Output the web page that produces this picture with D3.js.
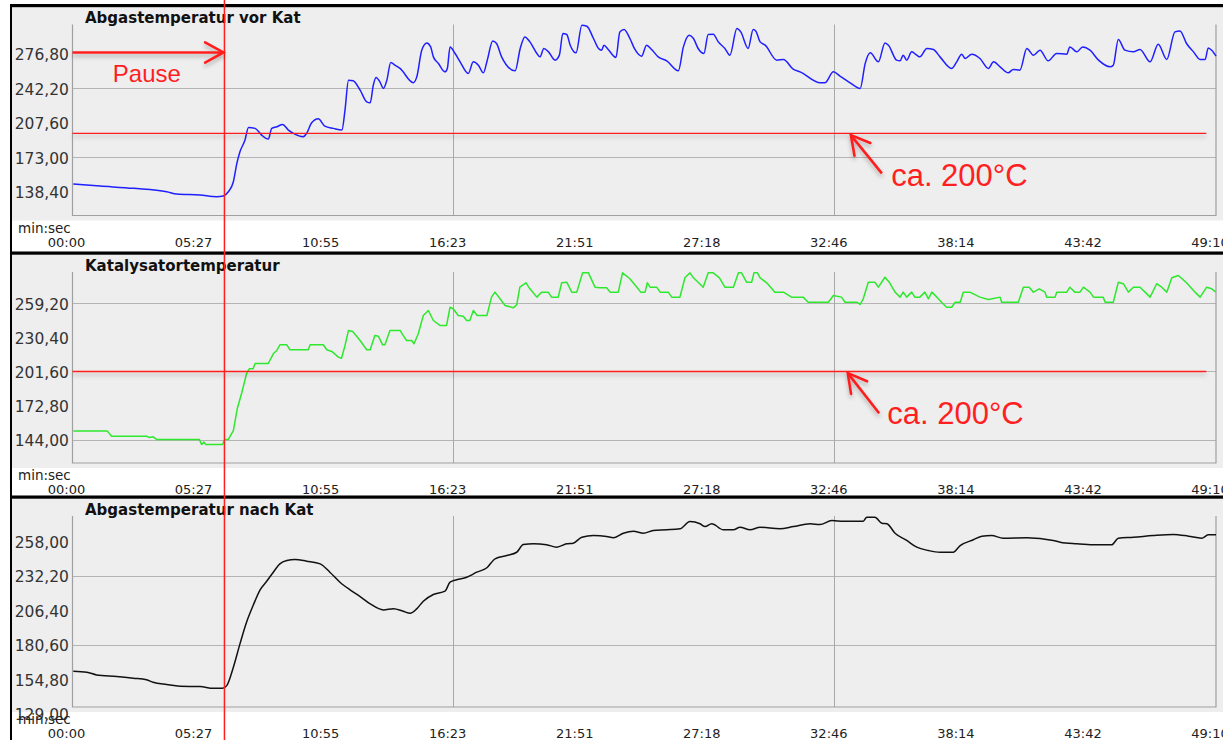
<!DOCTYPE html>
<html>
<head>
<meta charset="utf-8">
<script src="https://cdn.jsdelivr.net/npm/d3@7"></script>
<style>
  html, body { margin: 0; padding: 0; background: #fff; }
  svg { display: block; }
</style>
</head>
<body>
<svg id="chart" width="1223" height="740"></svg>
<script>
// ---- Data: time in seconds, temperature in °C ----
const xTickLabels = ["00:00", "05:27", "10:55", "16:23", "21:51", "27:18", "32:46", "38:14", "43:42", "49:10"];
const totalSeconds = 2950;
const xGridTickIndex = [3, 6];

const panelTitles = ["Abgastemperatur vor Kat", "Katalysatortemperatur", "Abgastemperatur nach Kat"];

const yTicksVorKat = [138.4, 173.0, 207.6, 242.2, 276.8];
const yTicksKat = [144.0, 172.8, 201.6, 230.4, 259.2];
const yTicksNachKat = [129.0, 154.8, 180.6, 206.4, 232.2, 258.0];
const yGridVorKat = [173.0, 242.2];
const yGridKat = [144.0, 201.6, 259.2];
const yGridNachKat = [180.6, 232.2];

const tempVorKat = [
  [2,146.3],[71,144.3],[157,142.0],[243,138.6],[269,136.3],[329,135.3],[372,133.6],[389,134.3],[402,138.6],[415,148.6],
  [424,167.0],[432,178.6],[445,190.3],[454,203.0],[471,202.0],[488,195.3],[505,191.3],[514,202.0],[527,203.6],[542,206.0],
  [557,200.3],[570,197.0],[595,193.6],[604,197.0],[617,207.6],[634,211.6],[651,204.3],[673,202.0],[695,200.3],[703,220.3],
  [712,250.3],[724,249.6],[742,240.3],[759,228.6],[768,227.6],[776,245.3],[783,253.0],[793,248.6],[802,242.0],[811,250.3],
  [821,268.0],[832,265.3],[845,262.0],[879,247.8],[888,253.3],[901,280.3],[914,287.6],[924,283.6],[931,273.6],[944,267.0],
  [961,258.6],[967,262.0],[974,283.6],[987,277.0],[1000,268.6],[1021,257.0],[1034,268.6],[1047,265.3],[1060,257.6],[1070,270.3],
  [1084,289.6],[1094,287.0],[1107,273.6],[1142,259.6],[1155,282.0],[1167,293.6],[1180,288.6],[1198,277.0],[1206,273.6],[1216,282.0],
  [1228,278.6],[1245,270.3],[1256,275.3],[1265,297.0],[1275,296.0],[1284,285.3],[1299,277.6],[1314,305.3],[1327,304.3],[1344,292.0],
  [1357,282.0],[1365,280.3],[1371,285.3],[1382,281.0],[1402,273.0],[1412,298.6],[1423,301.0],[1438,292.0],[1451,281.0],[1468,274.3],
  [1481,285.3],[1494,281.0],[1511,273.6],[1533,269.6],[1563,259.6],[1576,283.6],[1591,295.3],[1602,292.0],[1614,282.0],[1629,277.0],
  [1640,296.0],[1653,296.3],[1666,288.6],[1683,282.0],[1696,275.3],[1714,302.0],[1724,298.6],[1743,282.0],[1756,301.0],[1763,299.3],
  [1774,288.6],[1787,285.3],[1817,270.3],[1834,271.0],[1860,261.0],[1877,258.6],[1929,247.6],[1941,247.6],[1963,258.6],[1980,254.3],
  [2006,247.6],[2032,242.0],[2045,267.0],[2058,277.6],[2079,268.6],[2096,287.6],[2105,285.3],[2126,270.3],[2135,269.6],[2143,275.3],
  [2152,270.3],[2165,278.6],[2178,275.3],[2186,273.6],[2204,282.0],[2221,281.0],[2238,273.6],[2268,262.0],[2281,268.6],[2294,276.3],
  [2303,272.0],[2320,276.3],[2341,272.0],[2363,262.0],[2376,268.6],[2393,263.6],[2414,257.6],[2427,261.0],[2444,260.3],[2462,282.0],
  [2479,275.3],[2496,280.3],[2517,269.6],[2539,277.0],[2565,276.3],[2573,283.6],[2591,278.6],[2606,283.6],[2625,280.3],[2647,270.3],
  [2677,263.6],[2685,265.3],[2698,291.0],[2715,280.3],[2737,278.6],[2754,281.0],[2780,268.6],[2801,286.3],[2823,271.0],[2844,298.6],
  [2857,299.6],[2874,287.0],[2892,278.6],[2909,271.0],[2922,271.0],[2930,282.6],[2939,280.3],[2950,274.3]
];

const tempKat = [
  [2,151.3],[90,151.3],[101,147.0],[191,147.0],[198,146.0],[208,146.5],[217,144.3],[327,144.3],[333,140.0],[339,142.0],
  [344,140.0],[387,140.0],[393,144.3],[402,144.3],[415,151.8],[425,170.1],[437,184.1],[449,199.7],[456,203.9],[466,203.9],
  [471,208.3],[505,208.3],[518,216.5],[527,219.3],[535,224.1],[553,224.1],[561,219.9],[608,219.9],[613,224.1],[647,224.1],
  [656,219.9],[669,218.5],[686,213.7],[694,212.8],[703,223.5],[712,236.2],[723,235.3],[742,227.7],[759,219.9],[768,219.9],
  [780,232.0],[789,231.4],[800,224.1],[806,224.1],[819,236.2],[845,236.2],[853,232.0],[862,227.7],[875,227.7],[881,225.0],
  [892,233.4],[905,248.8],[918,253.0],[931,244.6],[948,240.4],[965,240.4],[974,255.8],[982,254.5],[995,248.8],[1008,248.2],
  [1017,244.6],[1025,244.6],[1034,253.0],[1044,248.8],[1069,248.8],[1081,264.3],[1090,268.5],[1103,262.9],[1116,257.3],[1137,255.3],
  [1146,257.8],[1154,272.7],[1170,276.4],[1180,271.3],[1198,264.3],[1210,268.5],[1227,268.5],[1236,264.3],[1253,264.3],[1262,276.4],
  [1275,276.9],[1288,268.5],[1301,268.5],[1316,284.8],[1331,284.8],[1348,272.7],[1361,272.2],[1378,272.2],[1387,268.5],[1408,268.5],
  [1419,284.8],[1438,279.8],[1456,272.7],[1466,268.5],[1477,268.5],[1483,276.4],[1490,272.7],[1507,272.7],[1516,268.5],[1537,268.5],
  [1546,264.3],[1567,264.3],[1580,280.6],[1593,284.8],[1602,280.6],[1614,276.9],[1627,272.7],[1640,284.8],[1653,284.8],[1669,280.6],
  [1683,272.7],[1705,272.7],[1718,284.8],[1726,284.8],[1739,276.9],[1752,276.9],[1758,284.8],[1767,284.8],[1774,280.6],[1791,276.4],
  [1812,268.5],[1834,268.5],[1855,264.3],[1885,264.3],[1898,260.0],[1950,260.0],[1963,265.7],[1984,264.3],[1993,260.0],[2023,260.0],
  [2032,258.1],[2040,262.9],[2053,276.9],[2070,276.9],[2079,272.7],[2096,281.1],[2107,276.9],[2122,268.5],[2135,264.3],[2143,268.5],
  [2152,264.3],[2165,268.5],[2173,264.3],[2186,264.3],[2199,268.5],[2208,262.9],[2217,268.5],[2230,264.3],[2242,260.0],[2255,255.8],
  [2268,255.8],[2277,260.0],[2290,260.0],[2298,268.5],[2315,268.5],[2341,264.3],[2363,262.3],[2393,264.3],[2397,260.0],[2440,260.0],
  [2453,272.7],[2468,272.7],[2479,268.5],[2494,271.3],[2509,268.5],[2513,264.3],[2535,264.3],[2539,268.5],[2565,268.5],[2573,272.7],
  [2586,268.5],[2599,268.5],[2608,272.7],[2625,268.5],[2634,264.3],[2659,264.3],[2664,260.0],[2685,260.0],[2698,276.9],[2711,275.6],
  [2724,268.5],[2737,272.7],[2754,272.7],[2767,268.5],[2780,264.3],[2797,275.6],[2810,272.7],[2823,268.5],[2836,280.6],[2853,282.6],
  [2874,276.4],[2896,268.5],[2909,264.3],[2926,272.7],[2939,271.3],[2950,268.5]
];

const tempNachKat = [
  [2,160.6],[37,159.9],[62,157.9],[114,156.7],[157,155.4],[191,154.2],[208,152.4],[243,150.7],[277,149.4],[329,149.2],
  [363,147.9],[387,147.9],[398,149.9],[415,163.6],[432,181.1],[449,197.3],[466,209.8],[484,221.5],[501,227.9],[518,234.7],
  [535,240.9],[553,243.4],[574,244.2],[604,242.9],[639,240.9],[664,234.7],[690,227.2],[716,221.5],[742,216.5],[768,211.0],
  [802,206.5],[828,207.3],[853,205.5],[871,204.0],[888,207.3],[905,213.0],[931,218.0],[961,220.5],[974,227.2],[991,229.0],
  [1017,230.9],[1043,234.7],[1069,238.0],[1090,244.7],[1120,247.2],[1146,249.6],[1163,255.4],[1189,255.9],[1223,255.2],[1249,253.4],
  [1275,255.9],[1292,256.4],[1314,260.8],[1344,262.1],[1378,261.4],[1395,260.4],[1421,263.8],[1447,265.3],[1473,263.8],[1498,265.9],
  [1533,266.4],[1567,267.1],[1593,272.6],[1619,270.9],[1632,268.8],[1649,270.9],[1679,266.4],[1705,266.4],[1722,268.3],[1748,266.4],
  [1774,268.3],[1825,267.1],[1860,268.8],[1903,270.9],[1928,270.3],[1959,273.3],[1989,272.8],[2040,272.8],[2049,275.8],[2070,275.8],
  [2088,271.3],[2101,270.9],[2122,263.8],[2152,258.4],[2178,253.4],[2208,250.9],[2238,249.6],[2272,249.6],[2290,254.6],[2324,258.9],
  [2346,261.6],[2371,262.1],[2401,260.1],[2462,260.4],[2530,258.4],[2548,257.1],[2591,255.9],[2633,255.2],[2681,255.2],[2698,260.1],
  [2737,260.8],[2788,262.1],[2840,262.9],[2879,261.6],[2913,260.1],[2930,262.6],[2950,262.6]
];

// ---- Annotation values ----
const pauseTime = 392;                 // restart after the pause, s
const pauseArrowTemp = 278;            // height of the "Pause" arrow in the top panel
const thresholdTemps = [197.0, 201.6]; // "ca. 200°C" marker lines (panel 1, panel 2)
const thresholdEndTime = 2925;
const calloutTips = [[2008, 195.3], [2000, 200.2]];
const calloutTails = [[2088, 157.0], [2081, 166.4]];
const calloutTextPos = [[2112, 144.6], [2102, 156.9]];
const calloutText = "ca. 200°C";
const pauseText = "Pause";
const pauseTextPos = [104, 248.6];

// ---- Layout ----
const W = 1223, H = 740;
const panelTops = [4, 251.5, 495.5];
const plotLeft = 72.5, plotRight = 1216;
const panels = [
  { title: panelTitles[0], data: tempVorKat, color: "#1f1fff", domain: [114.8, 306.0], ticks: yTicksVorKat, grid: yGridVorKat },
  { title: panelTitles[1], data: tempKat, color: "#2ee82e", domain: [124.4, 285.5], ticks: yTicksKat, grid: yGridKat },
  { title: panelTitles[2], data: tempNachKat, color: "#111111", domain: [133.9, 276.7], ticks: yTicksNachKat, grid: yGridNachKat }
];

const de = d3.formatLocale({ decimal: ",", thousands: ".", grouping: [3], currency: ["", " €"] });
const fmtY = de.format(".2f");

const svg = d3.select("#chart");
svg.append("rect").attr("width", W).attr("height", H).attr("fill", "#fff");

// drop shadow in user space so that flat horizontal lines keep it too
const defs = svg.append("defs");
const shadow = defs.append("filter").attr("id", "softShadow")
  .attr("filterUnits", "userSpaceOnUse")
  .attr("x", 0).attr("y", 0).attr("width", W).attr("height", H);
shadow.append("feDropShadow").attr("dx", 0).attr("dy", 3).attr("stdDeviation", 2)
  .attr("flood-color", "#000").attr("flood-opacity", 0.28);

const x = d3.scaleLinear().domain([0, totalSeconds]).range([plotLeft, plotRight]);
const tickTimes = xTickLabels.map((_, i) => i * totalSeconds / (xTickLabels.length - 1));

const yScales = [];

panels.forEach((p, i) => {
  const top = panelTops[i];
  const pTop = top + 20.5, pBottom = top + 211.5;
  const y = d3.scaleLinear().domain(p.domain).range([pBottom, pTop]);
  yScales.push(y);
  const g = svg.append("g");

  // panel background
  g.append("rect").attr("x", 12).attr("y", top).attr("width", W - 12).attr("height", 216.5)
    .attr("fill", "#eeeeee");

  // horizontal grid lines
  g.selectAll(".hgrid").data(p.grid).join("line")
    .attr("x1", plotLeft).attr("x2", plotRight)
    .attr("y1", d => Math.round(y(d)) + 0.5).attr("y2", d => Math.round(y(d)) + 0.5)
    .attr("stroke", "#b4b4b4").attr("stroke-width", 1);

  // vertical grid lines
  g.selectAll(".vgrid").data(xGridTickIndex).join("line")
    .attr("x1", d => Math.round(x(tickTimes[d])) - 0.5).attr("x2", d => Math.round(x(tickTimes[d])) - 0.5)
    .attr("y1", pTop).attr("y2", pBottom)
    .attr("stroke", "#a8a8a8").attr("stroke-width", 1);

  // plot frame: left, bottom, right
  g.append("path")
    .attr("d", `M${plotLeft},${pTop}V${pBottom}H${plotRight}V${pTop}`)
    .attr("fill", "none").attr("stroke", "#a0a0a0").attr("stroke-width", 1.2);

  // data line
  const line = d3.line().x(d => x(d[0])).y(d => y(d[1]))
    .curve(i === 1 ? d3.curveLinear : d3.curveMonotoneX);
  g.append("path").datum(p.data).attr("d", line)
    .attr("fill", "none").attr("stroke", p.color).attr("stroke-width", 1.5)
    .attr("stroke-linejoin", "round");

  // y tick labels
  g.selectAll(".ylab").data(p.ticks).join("text")
    .attr("x", 69).attr("y", d => y(d) + 1.5)
    .attr("text-anchor", "end").attr("dominant-baseline", "central")
    .attr("font-family", "DejaVu Sans, sans-serif").attr("font-size", 15.5)
    .attr("fill", "#333").text(d => fmtY(d));

  // x axis labels
  g.append("text").attr("x", 18).attr("y", pBottom + 12.3)
    .attr("dominant-baseline", "central")
    .attr("font-family", "DejaVu Sans, sans-serif").attr("font-size", 13.5)
    .attr("fill", "#222").text("min:sec");
  g.selectAll(".xlab").data(xTickLabels).join("text")
    .attr("x", (d, k) => x(tickTimes[k]) - 6).attr("y", pBottom + 26.5)
    .attr("text-anchor", "middle").attr("dominant-baseline", "central")
    .attr("font-family", "DejaVu Sans, sans-serif").attr("font-size", 13)
    .attr("fill", "#222").text(d => d);

  // title
  g.append("text").attr("x", 85).attr("y", top + 19)
    .attr("font-family", "DejaVu Sans, sans-serif").attr("font-weight", "bold").attr("font-size", 15)
    .attr("fill", "#111").text(p.title);

  // top border of the panel
  g.append("rect").attr("x", 10).attr("y", top).attr("width", W - 10).attr("height", 3.2).attr("fill", "#000");
});

// left frame border
svg.append("rect").attr("x", 10).attr("y", panelTops[0]).attr("width", 2).attr("height", H - panelTops[0]).attr("fill", "#000");

// ---- Red annotations ----
const red = "#ff1f1f";
const ann = svg.append("g");

// threshold lines
thresholdTemps.forEach((t, i) => {
  const yy = yScales[i](t);
  ann.append("line").attr("x1", x(0)).attr("x2", x(thresholdEndTime))
    .attr("y1", yy).attr("y2", yy)
    .attr("stroke", red).attr("stroke-width", 1.4).attr("filter", "url(#softShadow)");
});

// vertical pause marker through all panels
ann.append("line").attr("x1", x(pauseTime)).attr("x2", x(pauseTime)).attr("y1", 0).attr("y2", H)
  .attr("stroke", red).attr("stroke-width", 1.5);

function arrow(x1, y1, x2, y2, len, width) {
  const a = Math.atan2(y2 - y1, x2 - x1);
  const spread = Math.PI / 6.2;
  const p1 = [x2 - len * Math.cos(a - spread), y2 - len * Math.sin(a - spread)];
  const p2 = [x2 - len * Math.cos(a + spread), y2 - len * Math.sin(a + spread)];
  const gA = ann.append("g").attr("filter", "url(#softShadow)");
  gA.append("path").attr("d", `M${x1},${y1}L${x2},${y2}`)
    .attr("stroke", red).attr("stroke-width", width).attr("fill", "none");
  gA.append("path").attr("d", `M${p1[0]},${p1[1]}L${x2},${y2}L${p2[0]},${p2[1]}`)
    .attr("stroke", red).attr("stroke-width", width).attr("fill", "none")
    .attr("stroke-linejoin", "miter").attr("stroke-linecap", "round");
}

// "Pause" arrow
const yPause = yScales[0](pauseArrowTemp);
arrow(x(0), yPause, x(pauseTime) - 1, yPause, 21, 2.6);
ann.append("text").attr("x", x(pauseTextPos[0])).attr("y", yScales[0](pauseTextPos[1]))
  .attr("font-family", "Liberation Sans, Arial, sans-serif").attr("font-size", 24)
  .attr("fill", red).text(pauseText);

// "ca. 200°C" callouts
calloutTips.forEach((tip, i) => {
  const tail = calloutTails[i];
  const y = yScales[i];
  arrow(x(tail[0]), y(tail[1]), x(tip[0]), y(tip[1]), 21, 2.6);
  ann.append("text").attr("x", x(calloutTextPos[i][0])).attr("y", y(calloutTextPos[i][1]))
    .attr("font-family", "Liberation Sans, Arial, sans-serif").attr("font-size", 31)
    .attr("fill", red).text(calloutText);
});
</script>
</body>
</html>
